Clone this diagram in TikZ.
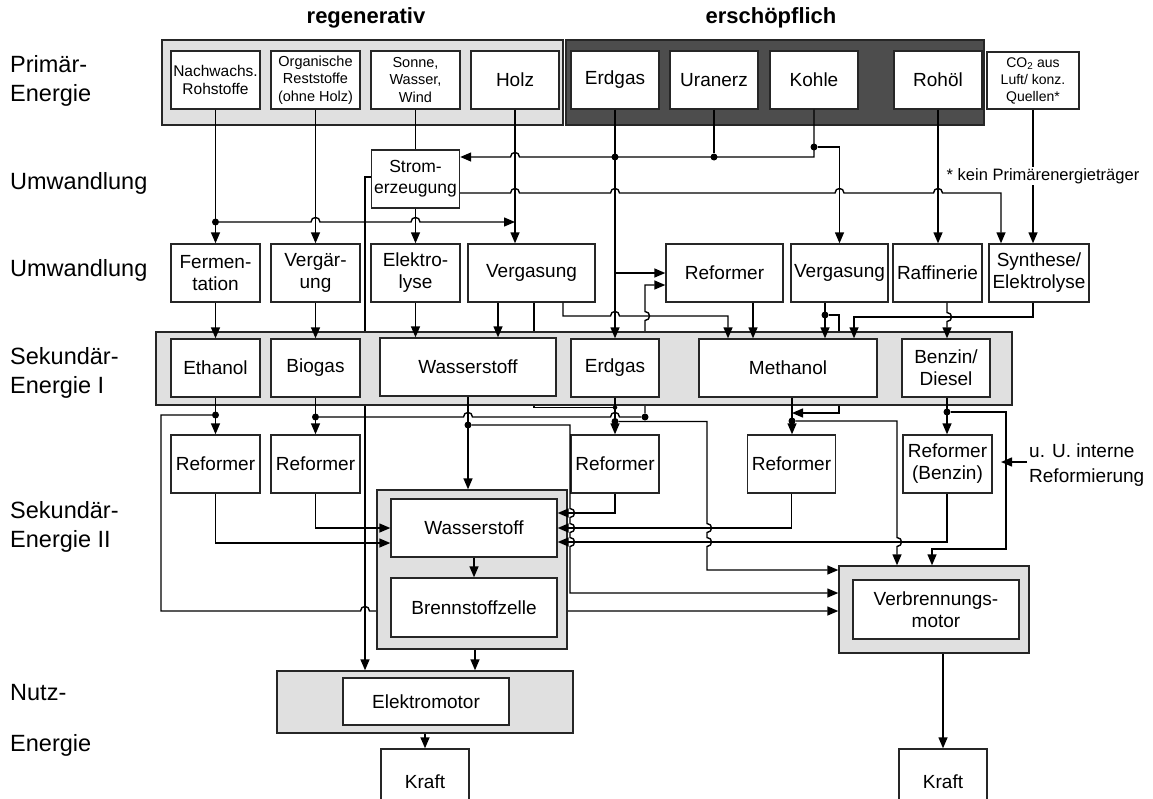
\documentclass[tikz,border=0pt]{standalone}
\usepackage{fontspec}
\setmainfont{Liberation Sans}
\usetikzlibrary{arrows.meta}
\pgfdeclarelayer{bg}
\pgfsetlayers{bg,main}
\definecolor{lgrey}{HTML}{E0E0E0}
\definecolor{dgrey}{HTML}{4D4D4D}
\definecolor{lnc}{HTML}{000000}
\definecolor{bdc}{HTML}{262626}
\tikzset{
 ln/.style={draw=lnc, line width=1.4pt},
 arr/.style={ln, -{Triangle[length=11pt,width=9pt]}},
 box/.style={draw=bdc, fill=white, line width=1.4pt, inner sep=0pt, align=center, font=\fontsize{19}{22}\selectfont},
 sbox/.style={box, font=\fontsize{14.5}{17.5}\selectfont},
 cont/.style={draw=bdc, line width=1.4pt, fill=lgrey, inner sep=0pt},
 wh/.style 2 args={minimum width=#1pt, minimum height=#2pt},
 dot/.style={circle, fill=lnc, inner sep=0pt, minimum size=7pt},
 lab/.style={anchor=west, inner sep=0pt, font=\fontsize{23.5}{28}\selectfont},
 hdr/.style={inner sep=0pt, font=\bfseries\fontsize{22}{26}\selectfont},
 hopr/.style 2 args={insert path={-- ({#1-4.5},#2) .. controls ({#1-4.5},{#2-6}) and ({#1+4.5},{#2-6}) .. ({#1+4.5},#2)}},
 hopl/.style 2 args={insert path={-- ({#1+4.5},#2) .. controls ({#1+4.5},{#2-6}) and ({#1-4.5},{#2-6}) .. ({#1-4.5},#2)}},
 hopd/.style 2 args={insert path={-- (#1,{#2-4.5}) .. controls ({#1+6},{#2-4.5}) and ({#1+6},{#2+4.5}) .. (#1,{#2+4.5})}},
 hopu/.style 2 args={insert path={-- (#1,{#2+4.5}) .. controls ({#1+6},{#2+4.5}) and ({#1+6},{#2-4.5}) .. (#1,{#2-4.5})}},
}
\begin{document}
\begin{tikzpicture}[x=1pt,y=-1pt]
\useasboundingbox (0,0) rectangle (1153,798);
% helper levels
\foreach \v in {177,193,285,316,317,413,513,528,542,543,549,570,593,611}{\coordinate (y\v) at (0,\v);}
\foreach \v in {161,365,425,475,498,534,563,570,645,707,728,753,792,825,839,854,897,932,943,947,1001,1006,1033}{\coordinate (x\v) at (\v,0);}
% headers
\node[hdr] (hreg) at (366,18) {regenerativ};
\node[hdr] (hers) at (771,18) {erschöpflich};
% row labels
\node[lab] (l1a) at (10,64) {Primär-};
\node[lab] (l1b) at (10,95) {Energie};
\node[lab] (l2) at (10,183) {Umwandlung};
\node[lab] (l3) at (10,270) {Umwandlung};
\node[lab] (l4a) at (10,356) {Sekundär-};
\node[lab] (l4b) at (10,387) {Energie I};
\node[lab] (l5a) at (10,510) {Sekundär-};
\node[lab] (l5b) at (10,541) {Energie II};
\node[lab] (l6a) at (10,693) {Nutz-};
\node[lab] (l6b) at (10,745) {Energie};
% containers
\node[cont, wh={401}{85}] (regc) at (362.5,82.5) {};
\node[cont, fill=dgrey, wh={418}{85}] (ersc) at (775,82.5) {};
\node[cont, wh={856}{73}] (sec1c) at (584,368.5) {};
\node[cont, wh={190}{159}] (bzc) at (472,569.5) {};
\node[cont, wh={190}{87}] (vmc) at (934,609.5) {};
\node[cont, wh={296}{62}] (emc) at (425,702) {};
% primary energy
\node[sbox, wh={89}{58}, font=\fontsize{15.5}{18}\selectfont] (nach) at (215.5,80) {Nachwachs.\\Rohstoffe};
\node[sbox, wh={89}{58}] (org) at (315.5,80) {Organische\\Reststoffe\\(ohne Holz)};
\node[sbox, wh={89}{58}] (sonne) at (415.5,80) {Sonne,\\Wasser,\\Wind};
\node[box, wh={88}{58}] (holz) at (515,80) {Holz};
\node[box, wh={88}{58}] (erdP) at (615,80) {Erdgas};
\node[box, wh={88}{58}] (uran) at (714,80) {Uranerz};
\node[box, wh={88}{58}] (kohle) at (814,80) {Kohle};
\node[box, wh={88}{58}] (rohoel) at (938,80) {Rohöl};
\node[sbox, wh={92}{57}, font=\fontsize{14}{17}\selectfont] (co2) at (1033,80.5) {CO\textsubscript{2} aus\\Luft/ konz.\\Quellen*};
% conversion
\node[box, wh={88}{58}, font=\fontsize{17.5}{21}\selectfont] (strom) at (415.5,179) {Strom-\\erzeugung};
\node[box, wh={89}{58}] (ferm) at (215.5,273) {Fermen-\\tation};
\node[box, wh={89}{58}] (vgar) at (315.5,273) {Vergär-\\ung};
\node[box, wh={89}{58}] (elek) at (415.5,273) {Elektro-\\lyse};
\node[box, wh={127}{58}] (vgas) at (531.5,273) {Vergasung};
\node[box, wh={117}{58}] (refA) at (724.5,273) {Reformer};
\node[box, wh={97}{58}] (vgas2) at (839.5,273) {Vergasung};
\node[box, wh={89}{58}] (raff) at (937.5,273) {Raffinerie};
\node[box, wh={100}{58}] (synth) at (1039,273) {Synthese/\\Elektrolyse};
% secondary I
\node[box, wh={89}{58}] (eth) at (215.5,368) {Ethanol};
\node[box, wh={89}{58}] (bio) at (315.5,368) {Biogas};
\node[box, wh={176}{58}] (h2) at (468,367) {Wasserstoff};
\node[box, wh={88}{58}] (erdS) at (615,368) {Erdgas};
\node[box, wh={178}{58}] (meth) at (788,368) {Methanol};
\node[box, wh={88}{58}] (benz) at (946,368) {Benzin/\\Diesel};
% reformers
\node[box, wh={89}{58}] (ref1) at (215.5,464) {Reformer};
\node[box, wh={89}{58}] (ref2) at (315.5,464) {Reformer};
\node[box, wh={88}{58}] (ref3) at (615,464) {Reformer};
\node[box, wh={88}{58}] (ref4) at (791.5,464) {Reformer};
\node[box, wh={89}{58}] (refB) at (947.5,464) {Reformer\\(Benzin)};
% secondary II / use
\node[box, wh={166}{58}] (h2i) at (474,528) {Wasserstoff};
\node[box, wh={166}{59}] (bz) at (474,607.5) {Brennstoffzelle};
\node[box, wh={166}{59}] (vm) at (936,609.5) {Verbrennungs-\\motor};
\node[box, wh={166}{47}] (em) at (426,701.5) {Elektromotor};
\node[box, wh={88}{66}] (kraftL) at (425,782) {Kraft};
\node[box, wh={88}{66}] (kraftR) at (943,782) {Kraft};
% junction dots
\node[dot] (dA) at (215.5,222) {};
\node[dot] (dB) at (615,157) {};
\node[dot] (dC) at (714,157) {};
\node[dot] (dD) at (814,147) {};
\node[dot] (dE) at (215.5,415) {};
\node[dot] (dF) at (315.5,417) {};
\node[dot] (dG) at (468,425) {};
\node[dot, minimum size=4.5pt] (dH) at (615,407.5) {};
\node[dot] (dI) at (645,417) {};
\node[dot] (dJ) at (615,421.5) {};
\node[dot] (dK) at (825,315) {};
\node[dot] (dL) at (792,421) {};
\node[dot] (dM) at (947,412) {};
% primary -> conversion
\draw[arr] (nach.south) -- (ferm.north);
\draw[arr] (dA) [hopr={315.5}{222}] [hopr={415.5}{222}] -- (holz.south |- dA);
\draw[arr] (org.south) -- (vgar.north);
\draw[ln] (sonne.south) -- (strom.north);
\draw[arr] (strom.south) -- (elek.north);
\draw[arr] (holz.south) -- (holz.south |- vgas.north);
\draw[arr] (erdP.south) -- (erdS.north);
\draw[arr] (erdP.south |- refA.west) -- (refA.west);
\draw[ln] (uran.south) -- (dC);
\draw[arr] (kohle.south) -- (kohle.south |- dC) [hopl={515}{157}] -- (strom.east |- dC);
\draw[arr] (dD) -| (vgas2.north);
\draw[arr] (strom.east |- y193) [hopr={515}{193}] [hopr={615}{193}] [hopr={839.5}{193}] [hopr={938}{193}] -- (x1001 |- y193) -- (x1001 |- synth.north);
\draw[arr] (x1033 |- co2.south) -- (x1033 |- synth.north);
\node[fill=white, inner sep=1pt, font=\fontsize{16.5}{19}\selectfont] (note) at (1043,176) {* kein Primärenergieträger};
\draw[arr] (rohoel.south) -- (rohoel.south |- raff.north);
% conversion -> secondary I
\draw[arr] (ferm.south) -- (eth.north);
\draw[arr] (vgar.south) -- (bio.north);
\draw[arr] (elek.south) -- (elek.south |- h2.north);
\draw[arr] (x498 |- vgas.south) -- (x498 |- h2.north);
\draw[arr] (x563 |- vgas.south) -- (x563 |- y316) [hopr={615}{316}] -- (x728 |- y316) -- (x728 |- meth.north);
\draw[arr] (x753 |- refA.south) -- (x753 |- meth.north);
\draw[arr] (x825 |- vgas2.south) -- (x825 |- meth.north);
\draw[arr] (x1033 |- synth.south) -- (x1033 |- y317) -- (x854 |- y317) -- (x854 |- meth.north);
\draw[arr] (x947 |- raff.south) [hopd={947}{317}] -- (x947 |- benz.north);
% secondary I -> reformers
\draw[arr] (eth.south) -- (ref1.north);
\draw[arr] (bio.south) -- (ref2.north);
\draw[arr] (erdS.south) -- (ref3.north);
\draw[arr] (x792 |- meth.south) -- (x792 |- ref4.north);
\draw[arr] (x947 |- benz.south) -- (x947 |- refB.north);
\draw[arr] (h2.south) -- (h2.south |- bzc.north);
\draw[ln] (dF) [hopr={468}{417}] [hopr={615}{417}] -- (dI);
\draw[arr] (dG) -- (x570 |- dG) [hopd={570}{513}] [hopd={570}{528}] [hopd={570}{542}] -- (x570 |- y593) -- (vmc.west |- y593);
\draw[arr] (dJ) -- (x707 |- dJ) [hopd={707}{528}] [hopd={707}{542}] -- (x707 |- y570) -- (vmc.west |- y570);
\draw[arr] (dL) -- (x897 |- dL) [hopd={897}{542}] -- (x897 |- vmc.north);
\draw[arr] (dM) -- (x1006 |- dM) -- (x1006 |- y549) -- (x932 |- y549) -- (x932 |- vmc.north);
% reformers -> hydrogen
\draw[arr] (ref1.south) |- (h2i.west |- y543);
\draw[arr] (ref2.south) |- (h2i.west |- y528);
\draw[arr] (ref3.south) |- (h2i.east |- y513);
\draw[arr] (ref4.south) |- (h2i.east |- y528);
\draw[arr] (x947 |- refB.south) |- (h2i.east |- y542);
% use
\draw[arr] (h2i.south) -- (bz.north);
\draw[arr] (x475 |- bzc.south) -- (x475 |- emc.north);
\draw[arr] (emc.south) -- (kraftL.north);
\draw[arr] (x943 |- vmc.south) -- (kraftR.north);
% internal reforming note
\coordinate (rz) at (1027,462);
\draw[arr] (rz) -- (x1001 |- rz);
\node[anchor=west, align=left, inner sep=0pt, font=\fontsize{19}{25}\selectfont] (rtxt) at (1029,465) {u. U. interne\\Reformierung};
% lines running behind the grey containers
\begin{pgfonlayer}{bg}
\draw[arr] (strom.west |- y177) -| (x365 |- emc.north);
\draw[ln] (x534 |- vgas.south) |- (dH);
\draw[arr] (dI) [hopu={645}{316}] -- (x645 |- y285) -- (refA.west |- y285);
\draw[arr] (dE) -- (x161 |- dE) -- (x161 |- y611) [hopr={365}{611}] -- (vmc.west |- y611);
\draw[arr] (dK) -- (x839 |- dK) -- (x839 |- y413) -- (x792 |- y413);
\end{pgfonlayer}
\end{tikzpicture}
\end{document}
